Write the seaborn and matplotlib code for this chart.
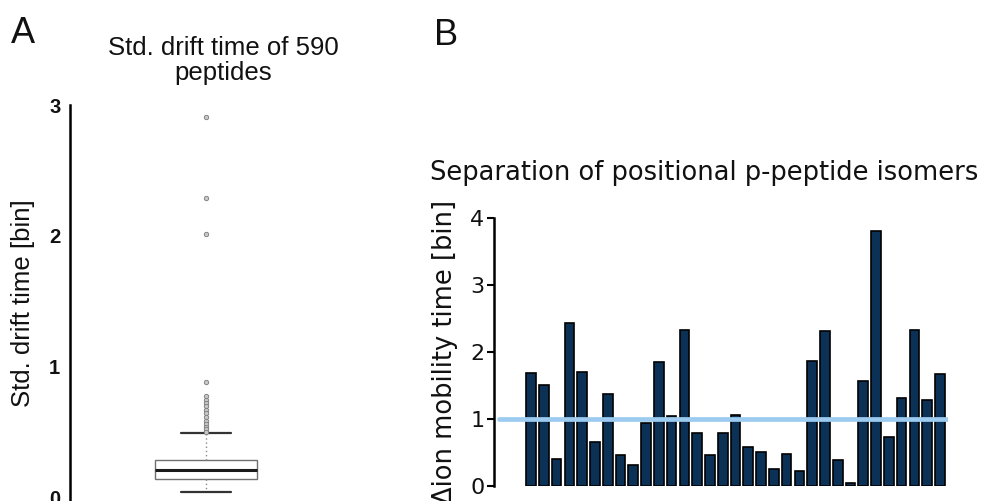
import matplotlib
matplotlib.use("Agg")
import matplotlib.pyplot as plt
import pandas as pd
import seaborn as sns

# Panel A: box plot summary
drift_q1 = 0.14
drift_median = 0.205
drift_q3 = 0.283
drift_whisker_low = 0.04
drift_whisker_high = 0.49
drift_outliers = [2.91, 2.29, 2.01, 0.88, 0.77, 0.74, 0.72, 0.70, 0.67,
                  0.64, 0.61, 0.58, 0.56, 0.54, 0.52, 0.50]
drift_ticks = [0, 1, 2, 3]

# Panel B: delta ion mobility time per isomer pair
isomer_pairs = list(range(1, 34))
delta_mobility = [1.68, 1.51, 0.41, 2.43, 1.70, 0.66, 1.38, 0.46, 0.32, 0.94,
                  1.85, 1.05, 2.33, 0.79, 0.47, 0.79, 1.06, 0.58, 0.51, 0.26,
                  0.48, 0.22, 1.87, 2.32, 0.39, 0.04, 1.57, 3.81, 0.73, 1.31,
                  2.33, 1.28, 1.67]
threshold = 1.0
mobility_ticks = [0, 1, 2, 3, 4]

sns.set_theme(style="white")
plt.rcParams["font.family"] = ["Liberation Sans", "DejaVu Sans"]

W, H = 985, 501
fig = plt.figure(figsize=(W / 100, H / 100), dpi=100)


def px_axes(left, top, right, bottom):
    return fig.add_axes([left / W, 1 - bottom / H, (right - left) / W, (bottom - top) / H])


# ---- panel A
axA = px_axes(70, 105, 342, 501)
stats = [dict(med=drift_median, q1=drift_q1, q3=drift_q3,
              whislo=drift_whisker_low, whishi=drift_whisker_high,
              fliers=drift_outliers)]
axA.bxp(stats, positions=[0], widths=0.75, capwidths=0.37, patch_artist=True,
        boxprops=dict(facecolor="white", edgecolor="#707070", linewidth=1.0),
        medianprops=dict(color="#1a1a1a", linewidth=2.2),
        whiskerprops=dict(color="#8a8a8a", linestyle=(0, (1, 2)), linewidth=1.0),
        capprops=dict(color="#333333", linewidth=1.6),
        flierprops=dict(marker="o", markersize=3.2, markerfacecolor="#c8c8c8",
                        markeredgecolor="#7a7a7a", markeredgewidth=0.6))
axA.set_xlim(-1, 1)
axA.set_ylim(-0.03, 3)
axA.set_xticks([])
axA.set_yticks(drift_ticks)
axA.tick_params(axis="y", length=0, pad=7, labelsize=14.5, labelcolor="#111111")
for lab in axA.get_yticklabels():
    lab.set_fontweight("bold")
for s in ["top", "right", "bottom"]:
    axA.spines[s].set_visible(False)
axA.spines["left"].set_linewidth(1.8)
axA.spines["left"].set_color("black")
axA.set_ylabel("Std. drift time [bin]", fontsize=18.5, color="#111111")
axA.yaxis.set_label_coords(-0.128, 0.5)
axA.grid(False)

# ---- panel B
axB = px_axes(494, 218, 948, 486)
df = pd.DataFrame({"pair": isomer_pairs, "delta": delta_mobility})
sns.barplot(data=df, x="pair", y="delta", color="#0b3256", saturation=1,
            width=0.76, edgecolor="black", linewidth=1.2, ax=axB)
axB.axhline(threshold, xmin=0.011, xmax=1, color="#9dcbef", linewidth=3.4, zorder=5)
axB.set_xlim(-2.9, 32.63)
axB.set_ylim(0, 4)
axB.set_xticks([])
axB.set_xlabel("")
axB.set_yticks(mobility_ticks)
axB.tick_params(axis="y", left=True, length=5, width=1.5, pad=2, labelsize=16,
                labelcolor="#111111", color="black")
for lab in axB.get_yticklabels():
    lab.set_family("DejaVu Sans")
for s in ["top", "right", "bottom"]:
    axB.spines[s].set_visible(False)
axB.spines["left"].set_linewidth(1.8)
axB.spines["left"].set_color("black")
axB.set_ylabel("\u0394ion mobility time [bin]", fontsize=18.5, family="DejaVu Sans",
               color="#111111")
axB.yaxis.set_label_coords(-0.08, 0.5)
axB.grid(False)

# ---- titles and panel letters
fig.text(11 / W, 1 - 43 / H, "A", fontsize=26, va="baseline", color="#111111")
fig.text(434 / W, 1 - 45 / H, "B", fontsize=26, va="baseline", color="#111111")
fig.text(223 / W, 1 - 36 / H, "Std. drift time of 590\npeptides", fontsize=18.5,
         ha="center", va="top", linespacing=1.05, color="#111111")
fig.text(430 / W, 1 - 180 / H, "Separation of positional p-peptide isomers",
         fontsize=18.5, family="DejaVu Sans", va="baseline", color="#111111")

fig.savefig("out.png", dpi=100)
